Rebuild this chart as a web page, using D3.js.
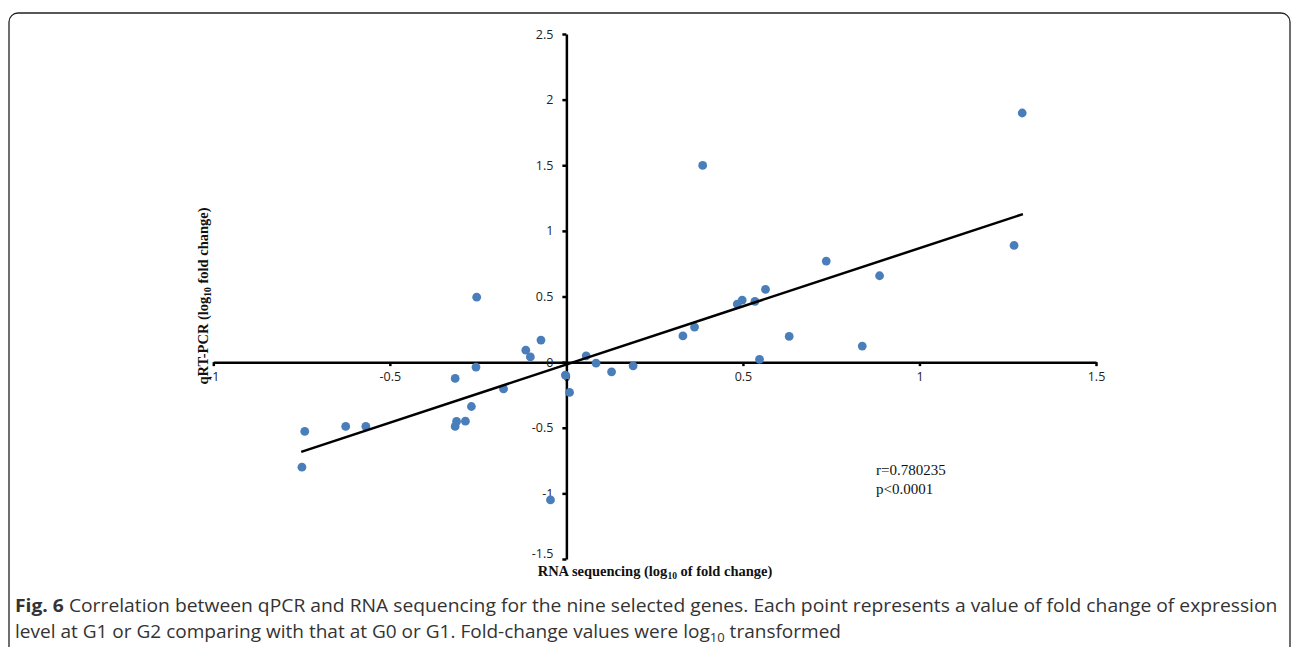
<!DOCTYPE html>
<html>
<head>
<meta charset="utf-8">
<script src="https://cdn.jsdelivr.net/npm/d3@7"></script>
<style>
  html, body { margin: 0; padding: 0; background: #fff; }
  svg { display: block; }
</style>
</head>
<body>
<svg id="chart" width="1293" height="647"></svg>
<script>
// ---- Data ----
const rnaSeq = [1.291, 0.386, 1.268, 0.736, 0.887, 0.564, 0.498, 0.484, 0.534, 0.363, 0.330, 0.631,
  0.838, 0.547, 0.056, 0.084, 0.128, 0.189, -0.003, 0.009, -0.045, -0.072, -0.115, -0.102,
  -0.254, -0.256, -0.315, -0.178, -0.269, -0.311, -0.286, -0.315, -0.568, -0.625, -0.741, -0.749];
const qpcr = [1.898, 1.499, 0.889, 0.770, 0.658, 0.554, 0.473, 0.442, 0.463, 0.267, 0.200, 0.196,
  0.122, 0.021, 0.048, -0.008, -0.074, -0.028, -0.099, -0.231, -1.050, 0.168, 0.091, 0.040,
  0.495, -0.038, -0.124, -0.204, -0.338, -0.452, -0.450, -0.490, -0.490, -0.490, -0.528, -0.800];
const trendX = [-0.751, 1.293];
const trendY = [-0.684, 1.128];
const xTicks = [-1, -0.5, 0, 0.5, 1, 1.5];
const xTickLabels = ["-1", "-0.5", "0", "0.5", "1", "1.5"];
const yTicks = [2.5, 2, 1.5, 1, 0.5, 0, -0.5, -1, -1.5];
const yTickLabels = ["2.5", "2", "1.5", "1", "0.5", "0", "-0.5", "-1", "-1.5"];
const statLines = ["r=0.780235", "p<0.0001"];

const svg = d3.select("#chart");

// frame
svg.append("rect")
  .attr("x", 9).attr("y", 13).attr("width", 1281).attr("height", 660)
  .attr("rx", 9).attr("ry", 9)
  .attr("fill", "none").attr("stroke", "#222").attr("stroke-width", 1.3);

const x = d3.scaleLinear().domain([-1, 1.5]).range([213.3, 1096]);
const y = d3.scaleLinear().domain([-1.5, 2.5]).range([559, 34]);

const tickFont = "'Open Sans', sans-serif";

// X axis (at y = 0)
const xAxis = d3.axisBottom(x).tickValues(xTicks)
  .tickFormat((d, i) => xTickLabels[i]).tickSize(4).tickSizeOuter(0).tickPadding(6);
const gx = svg.append("g").attr("transform", `translate(0,${y(0)})`).call(xAxis);
gx.select(".domain").attr("stroke", "#000").attr("stroke-width", 2.5);
gx.selectAll(".tick line").attr("stroke", "#000").attr("stroke-width", 2.5);
gx.selectAll(".tick text").attr("font-family", tickFont).attr("font-size", 12.5)
  .attr("fill", "#222");

// Y axis (at x = 0)
const yAxis = d3.axisLeft(y).tickValues(yTicks)
  .tickFormat((d, i) => yTickLabels[i]).tickSize(4).tickSizeOuter(0).tickPadding(9);
const gy = svg.append("g").attr("transform", `translate(${x(0)},0)`).call(yAxis);
gy.select(".domain").attr("stroke", "#000").attr("stroke-width", 2.5);
gy.selectAll(".tick line").attr("stroke", "#000").attr("stroke-width", 2.5);
gy.selectAll(".tick text").attr("font-family", tickFont).attr("font-size", 12.5)
  .attr("fill", "#222");
// lowest y label sits slightly higher, just above the x-axis title
gy.selectAll(".tick").filter(d => d === -1.5).select("text").attr("dy", "-0.1em");

// points
svg.append("g").selectAll("circle")
  .data(rnaSeq.map((v, i) => [v, qpcr[i]]))
  .join("circle")
  .attr("cx", d => x(d[0])).attr("cy", d => y(d[1]))
  .attr("r", 4.4).attr("fill", "#4a7ebb");

// trend line
svg.append("line")
  .attr("x1", x(trendX[0])).attr("y1", y(trendY[0]))
  .attr("x2", x(trendX[1])).attr("y2", y(trendY[1]))
  .attr("stroke", "#000").attr("stroke-width", 2.5);

// axis titles
const serif = "'Liberation Serif', 'Times New Roman', serif";
const yt = svg.append("text")
  .attr("transform", "translate(208,296) rotate(-90)")
  .attr("text-anchor", "middle")
  .attr("font-family", serif).attr("font-weight", "bold").attr("font-size", 14.5).attr("fill", "#111");
yt.append("tspan").text("qRT-PCR (log");
yt.append("tspan").attr("font-size", 9.5).attr("dy", 3).text("10");
yt.append("tspan").attr("dy", -3).text(" fold change)");

const xt = svg.append("text")
  .attr("x", 655).attr("y", 576)
  .attr("text-anchor", "middle")
  .attr("font-family", serif).attr("font-weight", "bold").attr("font-size", 14.5).attr("fill", "#111");
xt.append("tspan").text("RNA sequencing (log");
xt.append("tspan").attr("font-size", 9.5).attr("dy", 3).text("10");
xt.append("tspan").attr("dy", -3).text(" of fold change)");

// stats
svg.append("g").selectAll("text").data(statLines).join("text")
  .attr("x", 876).attr("y", (d, i) => 475 + i * 19)
  .attr("font-family", serif).attr("font-size", 15).attr("fill", "#111")
  .text(d => d);

// caption
const capFont = "'Open Sans', sans-serif";
const c1 = svg.append("text").attr("x", 15).attr("y", 612)
  .attr("font-family", capFont).attr("font-size", 17.5).attr("fill", "#333");
c1.append("tspan").attr("font-weight", "bold").text("Fig. 6");
c1.append("tspan").text(" Correlation between qPCR and RNA sequencing for the nine selected genes. Each point represents a value of fold change of expression");
const c2 = svg.append("text").attr("x", 15).attr("y", 638)
  .attr("font-family", capFont).attr("font-size", 17.5).attr("fill", "#333");
c2.append("tspan").text("level at G1 or G2 comparing with that at G0 or G1. Fold-change values were log");
c2.append("tspan").attr("font-size", 12).attr("dy", 4).text("10");
c2.append("tspan").attr("dy", -4).text(" transformed");

// fit caption widths to reference
function fit(sel, target) {
  const w = sel.node().getBBox().width;
  const s = target / w;
  const x0 = +sel.attr("x");
  sel.attr("transform", `translate(${x0},0) scale(${s},1) translate(${-x0},0)`);
}
fit(c1, 1263);
fit(c2, 827);
</script>
</body>
</html>
